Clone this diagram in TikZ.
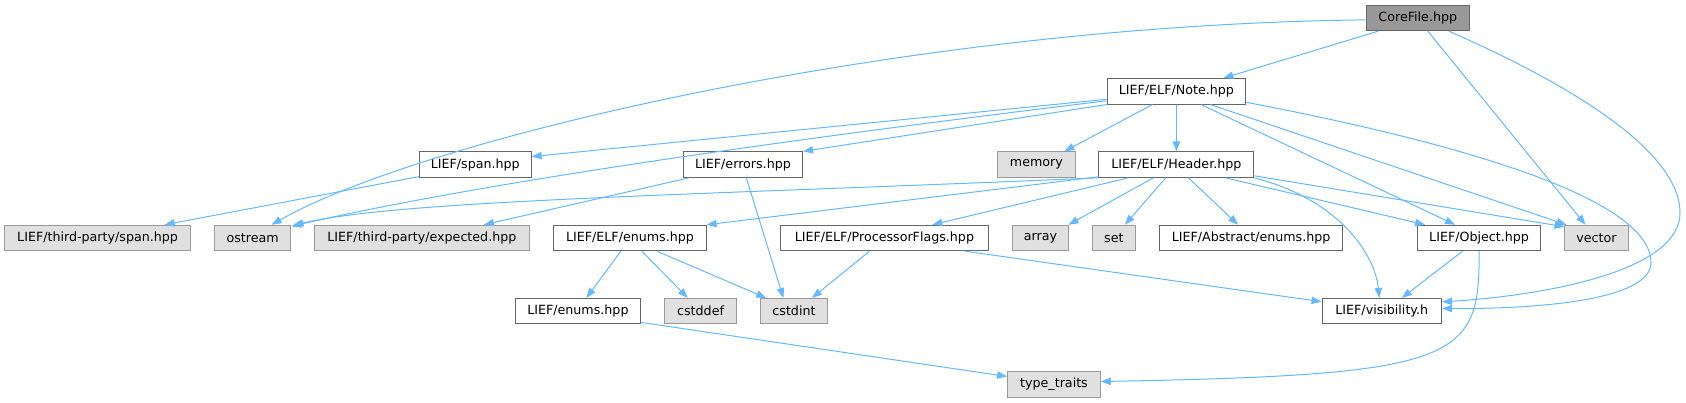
\documentclass[tikz,border=0pt]{standalone}
\usepackage{fontspec}
\setmainfont{DejaVu Sans}
\usetikzlibrary{arrows.meta,calc}
\definecolor{edgeblue}{HTML}{63B8FF}
\definecolor{boxline}{HTML}{666666}
\definecolor{sysfill}{HTML}{E0E0E0}
\definecolor{sysline}{HTML}{999999}
\begin{document}
\begin{tikzpicture}[x=0.75pt,y=0.75pt,yscale=-1,xscale=1,
  filebox/.style={draw=boxline,fill=white,line width=0.75pt,minimum height=19.1pt,inner sep=0pt,font=\fontsize{9.5}{11}\selectfont},
  sysbox/.style={filebox,draw=sysline,fill=sysfill},
  mainbox/.style={filebox,draw=boxline,fill=sysline},
  incl/.style={draw=edgeblue,line width=0.75pt,-{Triangle[length=7.5pt,width=5.5pt]}}]
\useasboundingbox (0,0) rectangle (1686,403);

% Nodes
\node[mainbox,minimum width=77.6pt] (corefile) at (1417.8,17.9) {CoreFile.hpp};
\node[filebox,minimum width=104pt] (note) at (1176.4,91.3) {LIEF/ELF/Note.hpp};
\node[filebox,minimum width=83.8pt] (span) at (475.3,164.6) {LIEF/span.hpp};
\node[filebox,minimum width=89.3pt] (errors) at (743,164.6) {LIEF/errors.hpp};
\node[sysbox,minimum width=58pt] (memory) at (1036.4,164.6) {memory};
\node[filebox,minimum width=116.3pt] (header) at (1176.4,164.6) {LIEF/ELF/Header.hpp};
\node[sysbox,minimum width=139.5pt] (tpspan) at (97.6,238) {LIEF/third-party/span.hpp};
\node[sysbox,minimum width=57.4pt] (ostream) at (252.6,238) {ostream};
\node[sysbox,minimum width=161pt] (expected) at (421.9,238) {LIEF/third-party/expected.hpp};
\node[filebox,minimum width=114.2pt] (elfenums) at (630,238) {LIEF/ELF/enums.hpp};
\node[filebox,minimum width=155.6pt] (procflags) at (884.4,238) {LIEF/ELF/ProcessorFlags.hpp};
\node[sysbox,minimum width=42.2pt] (array) at (1040.4,238) {array};
\node[sysbox,minimum width=32.5pt] (set) at (1113.9,238) {set};
\node[filebox,minimum width=137pt] (absenums) at (1251.1,238) {LIEF/Abstract/enums.hpp};
\node[filebox,minimum width=92.3pt] (object) at (1479.1,238) {LIEF/Object.hpp};
\node[sysbox,minimum width=47.3pt] (vector) at (1596.5,238) {vector};
\node[filebox,minimum width=94.2pt] (enums) at (577.9,311.2) {LIEF/enums.hpp};
\node[sysbox,minimum width=53.7pt] (cstddef) at (700.6,311.2) {cstddef};
\node[sysbox,minimum width=50.3pt] (cstdint) at (794,311.2) {cstdint};
\node[filebox,minimum width=89.6pt] (visibility) at (1381.8,311.2) {LIEF/visibility.h};
\node[sysbox,minimum width=69.5pt] (typetraits) at (1054,384.5) {type\_traits};

% CoreFile.hpp
\draw[incl] ($(corefile.south)+(-39.4,0)$) -- ($(note.north)+(47,0)$);
\draw[incl] ($(corefile.south)+(10,0)$) -- ($(vector.north)+(-11,0)$);
\draw[incl] ($(corefile.south)+(31,0)$) .. controls (1567,83) and (1680,150) .. (1680,213) .. controls (1680,270) and (1550,295) .. ($(visibility.east)+(0,-9.3)$);
\draw[incl] ($(corefile.west)+(0,2)$) .. controls (900,25) and (420,140) .. ($(ostream.north)+(19,0)$);
% LIEF/ELF/Note.hpp
\draw[incl] ($(note.west)+(0,8)$) -- ($(span.east)+(0,-8)$);
\draw[incl] ($(note.west)+(0,9.5)$) .. controls (700,150) and (450,190) .. ($(ostream.north east)+(0,1.5)$);
\draw[incl] (note.south west) -- (errors.north east);
\draw[incl] ($(note.south)+(-24,0)$) -- ($(memory.north)+(28,0)$);
\draw[incl] (note.south) -- (header.north);
\draw[incl] ($(note.south)+(24.5,0)$) -- ($(object.north)+(-24,0)$);
\draw[incl] ($(note.south)+(34,0)$) -- ($(vector.north west)+(2,0)$);
\draw[incl] ($(note.east)+(0,11)$) .. controls (1470,145) and (1650,200) .. (1651,262) .. controls (1652,300) and (1540,309) .. ($(visibility.east)+(0,-2.7)$);
% LIEF/ELF/Header.hpp
\draw[incl] (header.south west) .. controls (700,195) and (400,200) .. ($(ostream.north east)+(2,0.5)$);
\draw[incl] ($(header.south west)+(0,-1)$) -- (elfenums.north east);
\draw[incl] ($(header.south)+(-48,0)$) -- ($(procflags.north)+(48,0)$);
\draw[incl] ($(header.south)+(-23,0)$) -- ($(array.north)+(28,0)$);
\draw[incl] ($(header.south)+(-10.7,0)$) -- ($(set.north)+(11,0)$);
\draw[incl] ($(header.south)+(12,0)$) -- ($(absenums.north)+(-13,0)$);
\draw[incl] ($(header.south)+(49,0)$) -- ($(object.north)+(-54,0)$);
\draw[incl] ($(header.south east)+(0,-2)$) -- ($(vector.north west)+(0,2)$);
\draw[incl] (header.south east) .. controls (1340,200) and (1375,255) .. ($(visibility.north)+(-2.5,0)$);
% LIEF/ELF/enums.hpp, LIEF/errors.hpp, LIEF/ELF/ProcessorFlags.hpp
\draw[incl] ($(elfenums.south)+(-9.2,0)$) -- ($(enums.north)+(8.5,0)$);
\draw[incl] ($(elfenums.south)+(11.8,0)$) -- ($(cstddef.north)+(-12.8,0)$);
\draw[incl] ($(elfenums.south)+(27,0)$) -- ($(cstdint.north)+(-27.8,0)$);
\draw[incl] ($(errors.south west)+(6,0)$) -- ($(expected.north)+(62,0)$);
\draw[incl] ($(errors.south)+(3.3,0)$) -- ($(cstdint.north)+(-10.6,0)$);
\draw[incl] ($(procflags.south)+(-15,0)$) -- ($(cstdint.north)+(18,0)$);
\draw[incl] ($(procflags.south)+(81,0)$) -- ($(visibility.west)+(0,-9.5)$);
% LIEF/enums.hpp, LIEF/Object.hpp, LIEF/span.hpp
\draw[incl] ($(enums.south east)+(0,-2)$) -- ($(typetraits.west)+(0,-8)$);
\draw[incl] ($(object.south)+(-16.6,0)$) -- ($(visibility.north)+(20,0)$);
\draw[incl] (object.south) .. controls (1480,360) and (1460,375) .. ($(typetraits.east)+(0,-3)$);
\draw[incl] ($(span.west)+(0,12)$) -- ($(tpspan.north)+(67,0)$);

\end{tikzpicture}
\end{document}
